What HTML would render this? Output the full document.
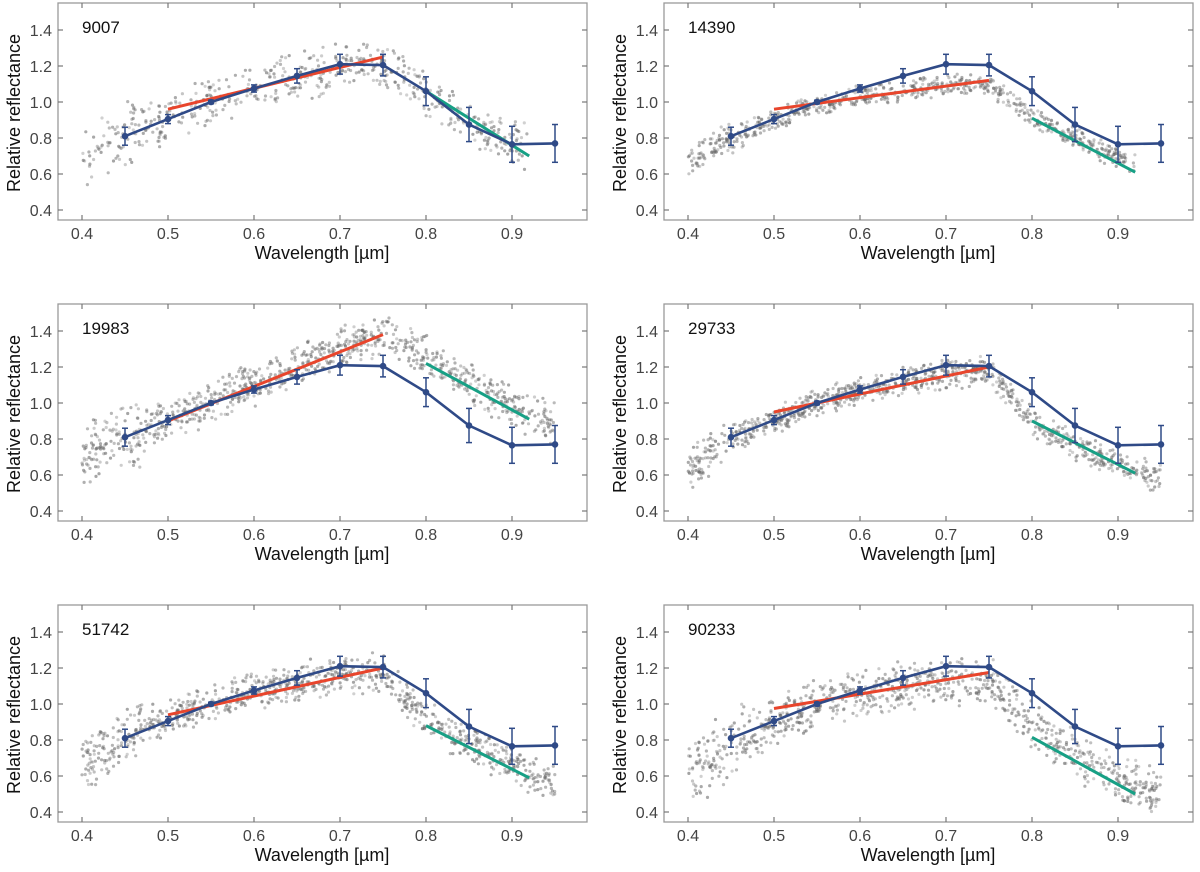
<!DOCTYPE html>
<html><head><meta charset="utf-8">
<style>
html,body{margin:0;padding:0;background:#fff;}
svg{display:block;font-family:"Liberation Sans",Arial,sans-serif;}
</style></head>
<body>
<svg id="chart" width="1200" height="872" viewBox="0 0 1200 872" xmlns="http://www.w3.org/2000/svg"></svg>
<script>
// ---- data ----
const panelNames = ["9007","14390","19983","29733","51742","90233"];
const modelWl   = [0.45,0.50,0.55,0.60,0.65,0.70,0.75,0.80,0.85,0.90,0.95];
const modelRef  = [0.81,0.905,1.00,1.075,1.145,1.21,1.205,1.06,0.875,0.765,0.77];
const modelErr  = [0.05,0.025,0.01,0.02,0.04,0.055,0.06,0.08,0.095,0.10,0.105];
// linear fits: [start value @0.50, end value @0.75] and [start @0.80, end @0.92]
const redStart   = [0.96,0.96,0.90,0.95,0.94,0.975];
const redEnd     = [1.25,1.12,1.38,1.20,1.20,1.175];
const greenStart = [1.06,0.91,1.22,0.90,0.88,0.815];
const greenEnd   = [0.70,0.61,0.91,0.61,0.59,0.50];
// observed spectrum trend (sampled every 0.05 µm from 0.40) and scatter half-width
const trendWl = [0.40,0.45,0.50,0.55,0.60,0.65,0.70,0.75,0.80,0.85,0.90,0.95];
const trend1 = [0.72,0.82,0.91,1.00,1.08,1.14,1.20,1.21,1.05,0.89,0.77,0.70];
const trend2 = [0.66,0.80,0.90,0.98,1.03,1.06,1.09,1.10,0.91,0.80,0.69,0.60];
const trend3 = [0.72,0.80,0.90,1.00,1.10,1.21,1.32,1.38,1.26,1.12,0.98,0.88];
const trend4 = [0.62,0.80,0.90,1.00,1.07,1.12,1.16,1.18,0.90,0.76,0.66,0.58];
const trend5 = [0.68,0.82,0.92,1.00,1.07,1.12,1.16,1.18,0.92,0.78,0.66,0.55];
const trend6 = [0.62,0.77,0.90,1.00,1.06,1.10,1.14,1.13,0.88,0.71,0.59,0.50];
const spread = [0.15,0.07,0.13,0.09,0.12,0.15];
const wlEnd  = [0.92,0.92,0.95,0.95,0.95,0.95];
const dotCount = [560,700,900,900,900,900];
const xTicks = [0.4,0.5,0.6,0.7,0.8,0.9];
const yTicks = [0.4,0.6,0.8,1.0,1.2,1.4];
const trends = [trend1,trend2,trend3,trend4,trend5,trend6];

const NS="http://www.w3.org/2000/svg";
const svg=document.getElementById('chart');
function mk(tag,attrs,parent){const e=document.createElementNS(NS,tag);for(const k in attrs)e.setAttribute(k,attrs[k]);(parent||svg).appendChild(e);return e;}

const colLeft=[58,664], rowTop=[3,304,605], PW=529, PH=217;
// deterministic texture for dot placement
let seed=12345;
function hash(){seed=(seed*1103515245+12345)&0x7fffffff;return seed/0x7fffffff;}
function interp(arr,w){
  const t=(w-0.40)/0.05;let i=Math.floor(t);if(i<0)i=0;if(i>arr.length-2)i=arr.length-2;
  const f=t-i;return arr[i]*(1-f)+arr[i+1]*f;
}

panelNames.forEach((name,p)=>{
  const L=colLeft[p%2], T=rowTop[Math.floor(p/2)];
  const X=w=>L+24+(w-0.4)*860;
  const Y=v=>T+207-(v-0.4)*180;
  const g=mk('g',{});
  
  
  const box=mk('rect',{x:L,y:T,width:PW,height:PH,fill:'none',stroke:'#9a9a9a','stroke-width':1.3},g);
  
  
  // ticks
  xTicks.forEach(t=>{
    const x=X(t);
    mk('line',{x1:x,x2:x,y1:T+PH,y2:T+PH-5,stroke:'#777','stroke-width':1.2},g);
    mk('line',{x1:x,x2:x,y1:T,y2:T+5,stroke:'#777','stroke-width':1.2},g);
    const lb=mk('text',{x:x,y:T+PH+19,'text-anchor':'middle','font-size':16,fill:'#444'},g);
    lb.textContent=t.toFixed(1);
    
    
  });
  yTicks.forEach(t=>{
    const y=Y(t);
    mk('line',{x1:L,x2:L+5,y1:y,y2:y,stroke:'#777','stroke-width':1.2},g);
    mk('line',{x1:L+PW,x2:L+PW-5,y1:y,y2:y,stroke:'#777','stroke-width':1.2},g);
    const lb=mk('text',{x:L-6,y:y+6,'text-anchor':'end','font-size':16,fill:'#444'},g);
    lb.textContent=t.toFixed(1);
    
    
  });
  const xt=mk('text',{x:L+264,y:T+PH+39,'text-anchor':'middle','font-size':18,fill:'#111'},g);
  xt.textContent='Wavelength [µm]';
  
  
  const yt=mk('text',{x:0,y:0,'text-anchor':'middle','font-size':18,fill:'#111',transform:`translate(${L-38},${T+110}) rotate(-90)`},g);
  yt.textContent='Relative reflectance';
  
  
  const tt=mk('text',{x:L+24,y:T+30,'font-size':17,fill:'#111'},g);
  tt.textContent=name;
  
  
  // scatter
  const sg=mk('g',{},g);
  
  
  const tr=trends[p];
  for(let i=0;i<dotCount[p];i++){
    const w=0.40+hash()*(wlEnd[p]-0.40);
    const u=(hash()+hash()-1);
    let s=spread[p]*(w<0.47?1.5:1);
    const v=interp(tr,w)+u*s;
    const d=mk('circle',{cx:X(w).toFixed(1),cy:Y(v).toFixed(1),r:1.6,fill:'#666','fill-opacity':(0.3+hash()*0.3).toFixed(2)},sg);
  }
  // fits
  const red=mk('line',{x1:X(0.50),y1:Y(redStart[p]),x2:X(0.75),y2:Y(redEnd[p]),stroke:'#e8452c','stroke-width':3},g);
  
  
  const grn=mk('line',{x1:X(0.80),y1:Y(greenStart[p]),x2:X(0.92),y2:Y(greenEnd[p]),stroke:'#17a085','stroke-width':3},g);
  
  
  // model
  const mg=mk('g',{},g);
  
  
  const pts=modelWl.map((w,i)=>X(w).toFixed(1)+','+Y(modelRef[i]).toFixed(1)).join(' ');
  mk('polyline',{points:pts,fill:'none',stroke:'#2f4a87','stroke-width':2.6},mg);
  modelWl.forEach((w,i)=>{
    const x=X(w),y1=Y(modelRef[i]-modelErr[i]),y2=Y(modelRef[i]+modelErr[i]);
    mk('line',{x1:x,x2:x,y1:y1,y2:y2,stroke:'#2f4a87','stroke-width':1.5},mg);
    mk('line',{x1:x-3,x2:x+3,y1:y1,y2:y1,stroke:'#2f4a87','stroke-width':1.5},mg);
    mk('line',{x1:x-3,x2:x+3,y1:y2,y2:y2,stroke:'#2f4a87','stroke-width':1.5},mg);
    const c=mk('circle',{cx:x,cy:Y(modelRef[i]),r:3.3,fill:'#2f4a87'},mg);
    
    
  });
});
</script>
</body></html>
